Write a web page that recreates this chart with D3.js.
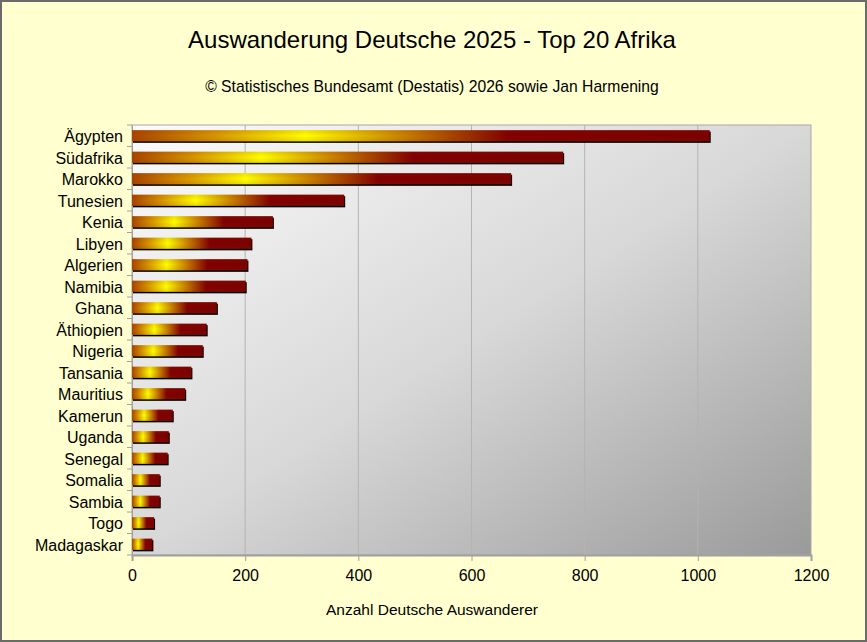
<!DOCTYPE html>
<html>
<head>
<meta charset="utf-8">
<script src="https://cdn.jsdelivr.net/npm/d3@7"></script>
<style>
  body { margin: 0; background: #fff; }
  svg text { font-family: "Liberation Sans", Arial, sans-serif; fill: #000; }
</style>
</head>
<body>
<div class="main-container"></div>
<script>
const countries = ["Ägypten", "Südafrika", "Marokko", "Tunesien", "Kenia", "Libyen", "Algerien",
  "Namibia", "Ghana", "Äthiopien", "Nigeria", "Tansania", "Mauritius", "Kamerun", "Uganda",
  "Senegal", "Somalia", "Sambia", "Togo", "Madagaskar"];
const emigrants = [1021, 762, 670, 375, 249, 211, 204, 201, 150, 132, 125, 105, 94, 72, 65, 63, 49, 49, 39, 36];
const xTicks = [0, 200, 400, 600, 800, 1000, 1200];

const title = "Auswanderung Deutsche 2025 - Top 20 Afrika";
const subtitle = "© Statistisches Bundesamt (Destatis) 2026 sowie Jan Harmening";
const xTitle = "Anzahl Deutsche Auswanderer";

const W = 867, H = 642;
let margin = {top: 125, right: 56, bottom: 87, left: 132},
  width = W - margin.left - margin.right,
  height = H - margin.top - margin.bottom;

const root = d3.select(".main-container")
  .append("svg")
  .attr("width", W)
  .attr("height", H);

const defs = root.append("defs");

// plot background: light top-left to grey bottom-right
const bg = defs.append("linearGradient")
  .attr("id", "plotBg")
  .attr("x1", 0).attr("y1", 0).attr("x2", 1).attr("y2", 1);
bg.append("stop").attr("offset", 0).attr("stop-color", "#fbfbfb");
bg.append("stop").attr("offset", 0.5).attr("stop-color", "#d8d8d8");
bg.append("stop").attr("offset", 1).attr("stop-color", "#9a9a9a");

// bar fill: brown-orange -> yellow -> dark red
const barGrad = defs.append("linearGradient")
  .attr("id", "barGrad")
  .attr("x1", 0).attr("y1", 0).attr("x2", 1).attr("y2", 0);
[[0, "#a84400"], [0.15, "#d89a00"], [0.3, "#ffff00"], [0.47, "#c88000"], [0.65, "#800000"], [1, "#7a0000"]]
  .forEach(s => barGrad.append("stop").attr("offset", s[0]).attr("stop-color", s[1]));

const shade = defs.append("linearGradient")
  .attr("id", "barShade")
  .attr("x1", 0).attr("y1", 0).attr("x2", 0).attr("y2", 1);
shade.append("stop").attr("offset", 0).attr("stop-color", "#8a3000").attr("stop-opacity", 0.15);
shade.append("stop").attr("offset", 0.5).attr("stop-color", "#8a3000").attr("stop-opacity", 0);
shade.append("stop").attr("offset", 1).attr("stop-color", "#8a3000").attr("stop-opacity", 0.15);

// chart background and frame
root.append("rect")
  .attr("x", 1).attr("y", 1)
  .attr("width", W - 2).attr("height", H - 2)
  .attr("fill", "#ffffcf")
  .attr("stroke", "#6a6a6a")
  .attr("stroke-width", 2);

root.append("text")
  .attr("x", 432).attr("y", 48)
  .attr("text-anchor", "middle")
  .style("font-size", "24px")
  .text(title);

root.append("text")
  .attr("x", 432).attr("y", 92)
  .attr("text-anchor", "middle")
  .style("font-size", "15.7px")
  .text(subtitle);

const svg = root.append("g")
  .attr("transform", "translate(" + margin.left + "," + margin.top + ")");

let x = d3.scaleLinear()
  .domain([0, 1200])
  .range([0, width]);

let y = d3.scaleBand()
  .domain(countries)
  .range([0, height])
  .paddingInner(0.48)
  .paddingOuter(0.24);

svg.append("rect")
  .attr("width", width)
  .attr("height", height)
  .attr("fill", "url(#plotBg)")
  .attr("stroke", "#a8a8a8");

// vertical gridlines
svg.append("g")
  .selectAll("line")
  .data(xTicks.slice(1, -1))
  .join("line")
  .attr("x1", d => x(d)).attr("x2", d => x(d))
  .attr("y1", 0).attr("y2", height)
  .attr("stroke", "#b4b4b4");

// x axis
const xAxis = svg.append("g")
  .attr("transform", "translate(0," + height + ")")
  .call(d3.axisBottom(x).tickValues(xTicks).tickFormat(d3.format("d")).tickSize(6).tickPadding(9));
xAxis.select(".domain").attr("stroke", "#a0a0a0").attr("stroke-width", 2);
xAxis.selectAll(".tick line").attr("stroke", "#a0a0a0");
xAxis.selectAll("text").style("font-size", "16px").attr("fill", "#000");

// y axis with ticks between categories
const yAxis = svg.append("g")
  .call(d3.axisLeft(y).tickSize(0).tickPadding(9));
yAxis.select(".domain").attr("stroke", "#a0a0a0");
yAxis.selectAll("text").style("font-size", "16px").attr("fill", "#000").attr("dy", "0.4em");
const step = y.step();
svg.append("g")
  .selectAll("line")
  .data(d3.range(countries.length + 1))
  .join("line")
  .attr("x1", -5).attr("x2", 0)
  .attr("y1", i => i * step).attr("y2", i => i * step)
  .attr("stroke", "#a0a0a0");

// bars: shadow, fill, shading
const bars = svg.append("g")
  .selectAll("g")
  .data(countries.map((c, i) => ({country: c, value: emigrants[i]})))
  .join("g");

bars.append("rect")
  .attr("x", 1)
  .attr("y", d => y(d.country) + 1.5)
  .attr("width", d => x(d.value))
  .attr("height", y.bandwidth())
  .attr("fill", "#000");

bars.append("rect")
  .attr("x", 0)
  .attr("y", d => y(d.country))
  .attr("width", d => x(d.value))
  .attr("height", y.bandwidth())
  .attr("fill", "url(#barGrad)");

bars.append("rect")
  .attr("x", 0)
  .attr("y", d => y(d.country))
  .attr("width", d => x(d.value))
  .attr("height", y.bandwidth())
  .attr("fill", "url(#barShade)");

root.append("text")
  .attr("x", 432).attr("y", 615)
  .attr("text-anchor", "middle")
  .style("font-size", "15.5px")
  .text(xTitle);
</script>
</body>
</html>
